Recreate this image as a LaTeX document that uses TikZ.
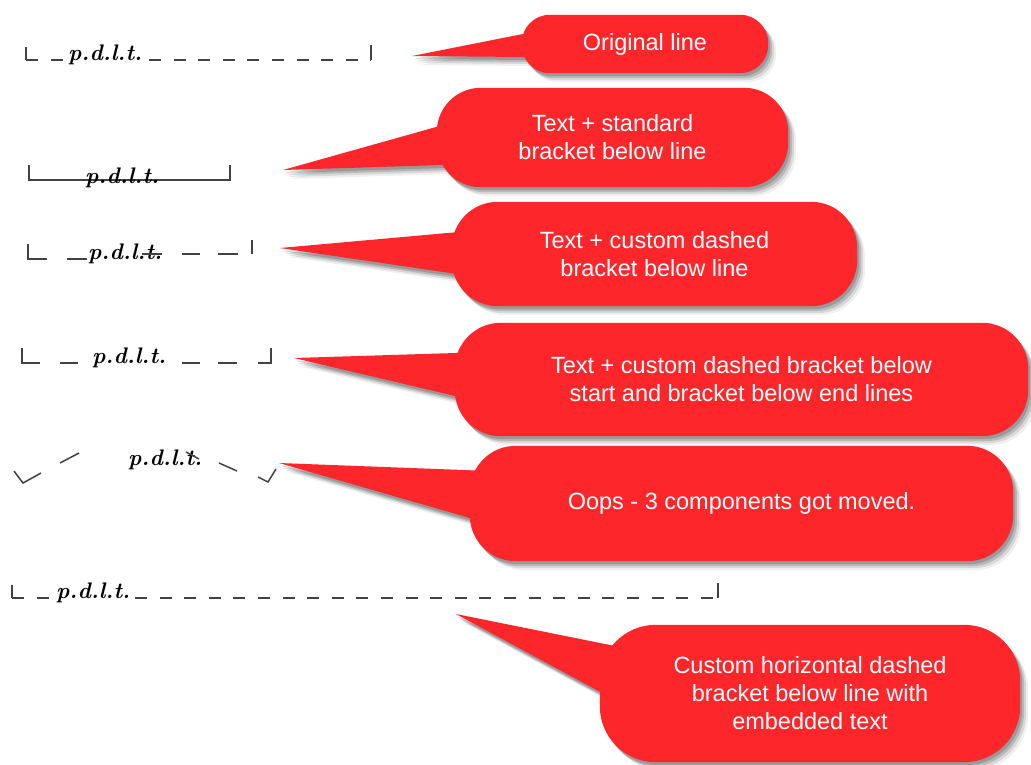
\documentclass[tikz,border=0pt]{standalone}
\usepackage{fontspec}
\newfontfamily\bubblefont{Liberation Sans}
\usetikzlibrary{backgrounds}

\definecolor{bubblered}{RGB}{253,38,42}
\definecolor{ink}{RGB}{66,66,66}

\tikzset{
  bubbletext/.style={text=white, font=\bubblefont\fontsize{23.5}{28}\selectfont, align=center, inner sep=0pt},
  bubblefill/.style={fill=bubblered},
  inkline/.style={draw=ink, line width=1.5pt},
  inkdash/.style={inkline, dash pattern=on 12pt off 12.6pt},
  ptag/.style={font=\rmfamily\bfseries\itshape\fontsize{22.5}{26}\selectfont, inner sep=0pt, anchor=base west, text=black},
  masktag/.style={ptag, fill=white, inner xsep=3pt},
}

% outline of a callout: pointer triangle joined with a rounded box around a node
% #1 node, #2 corner radius, #3 tip, #4 upper base point, #5 lower base point
\newcommand\bubbleoutline[5]{(#3) -- (#4) -- (#5) -- cycle
    (#1.west) -- ([yshift=-#2]#1.north west) arc[start angle=180, end angle=90, radius=#2]
    -- ([xshift=-#2]#1.north east) arc[start angle=90, end angle=0, radius=#2]
    -- ([yshift=#2]#1.south east) arc[start angle=0, end angle=-90, radius=#2]
    -- ([xshift=#2]#1.south west) arc[start angle=270, end angle=180, radius=#2]
    -- cycle}

% soft drop shadow (stacked translucent copies), then the red callout on top
\newcommand\bubbleshape[5]{%
  \foreach \sx/\sy/\so in {2/-3/0.16, 4/-5/0.15, 6/-7/0.10, 8/-9/0.06}{%
    \fill[black, opacity=\so, transform canvas={shift={(\sx pt,\sy pt)}}]
      \bubbleoutline{#1}{#2}{#3}{#4}{#5};
  }
  \fill[bubblefill] \bubbleoutline{#1}{#2}{#3}{#4}{#5};
}

\begin{document}
\begin{tikzpicture}[x=1pt, y=-1pt]
\useasboundingbox (0,0) rectangle (1031,764);

% ---------- callout texts ----------
\node[bubbletext, minimum width=246pt, minimum height=58pt] (c1) at (645,44) {Original line};
\node[bubbletext, minimum width=351pt, minimum height=99pt] (c2) at (612.5,137.5) {Text + standard\\bracket below line};
\node[bubbletext, minimum width=405pt, minimum height=104pt] (c3) at (654.5,254) {Text + custom dashed\\bracket below line};
\node[bubbletext, minimum width=573pt, minimum height=113pt] (c4) at (741.5,379.5) {Text + custom dashed bracket below\\start and bracket below end lines};
\node[bubbletext, minimum width=543pt, minimum height=115pt] (c5) at (741.5,503.5) {Oops - 3 components got moved.};
\node[bubbletext, minimum width=420pt, minimum height=137pt] (c6) at (810,693.5) {Custom horizontal dashed\\bracket below line with\\embedded text};

% pointer tips and pointer bases
\coordinate (t1) at (412,56);    \coordinate (u1) at (535,31.6);  \coordinate (v1) at (535,57.1);
\coordinate (t2) at (283,170);   \coordinate (u2) at (455,121.7); \coordinate (v2) at (455,164.6);
\coordinate (t3) at (280,248);   \coordinate (u3) at (470,231);   \coordinate (v3) at (470,276);
\coordinate (t4) at (294,358);   \coordinate (u4) at (475,352.4); \coordinate (v4) at (475,400.7);
\coordinate (t5) at (279,463);   \coordinate (u5) at (490,471);   \coordinate (v5) at (490,523.8);
\coordinate (t6) at (456,614);   \coordinate (u6) at (630,649);   \coordinate (v6) at (630,708);

\begin{scope}[on background layer]
  \bubbleshape{c1}{28pt}{t1}{u1}{v1}
  \bubbleshape{c2}{44pt}{t2}{u2}{v2}
  \bubbleshape{c3}{46pt}{t3}{u3}{v3}
  \bubbleshape{c4}{46pt}{t4}{u4}{v4}
  \bubbleshape{c5}{46pt}{t5}{u5}{v5}
  \bubbleshape{c6}{56pt}{t6}{u6}{v6}
\end{scope}

% ---------- 1: original line ----------
\draw[inkline] (26,47) -- (26,60);
\draw[inkdash] (26,60) -- (371,60);
\draw[inkline] (371,45) -- (371,60);
\node[masktag] (l1) at (65,60) {p.d.l.t.};

% ---------- 2: standard bracket ----------
\draw[inkline] (29,165) -- (29,180) -- (230,180) -- (230,165);
\node[ptag] (l2) at (85,183) {p.d.l.t.};

% ---------- 3: custom dashed bracket ----------
\draw[inkline] (28,244) -- (28,259) -- (47,259);
\draw[inkline] (67,259) -- (87,259);
\node[ptag] (l3) at (88,259) {p.d.l.t.};
\draw[inkline] (142,254) -- (162,254);
\draw[inkline] (182,254) -- (200,254);
\draw[inkline] (218,254) -- (238,254);
\draw[inkline] (252,240) -- (252,254);

% ---------- 4: dashed start, bracket end ----------
\draw[inkline] (22,348) -- (22,363) -- (40,363);
\draw[inkline] (60,363) -- (78,363);
\node[ptag] (l4) at (92,363) {p.d.l.t.};
\draw[inkline] (182,363) -- (200,363);
\draw[inkline] (218,363) -- (237,363);
\draw[inkline] (258,363) -- (271,363) -- (271,348);

% ---------- 5: moved components ----------
\draw[inkline] (14,471) -- (23,483) -- (41,473);
\draw[inkline] (60,463) -- (79,453);
\node[ptag] (l5) at (128,465) {p.d.l.t.};
\draw[inkline] (186,452) -- (199,459);
\draw[inkline] (219,463) -- (237,471);
\draw[inkline] (258,477) -- (268,482) -- (276,469);

% ---------- 6: long dashed bracket with embedded text ----------
\draw[inkline] (12,585) -- (12,598);
\draw[inkdash] (12,598) -- (718,598);
\draw[inkline] (718,583) -- (718,598);
\node[masktag] (l6) at (53,598) {p.d.l.t.};
\end{tikzpicture}
\end{document}
